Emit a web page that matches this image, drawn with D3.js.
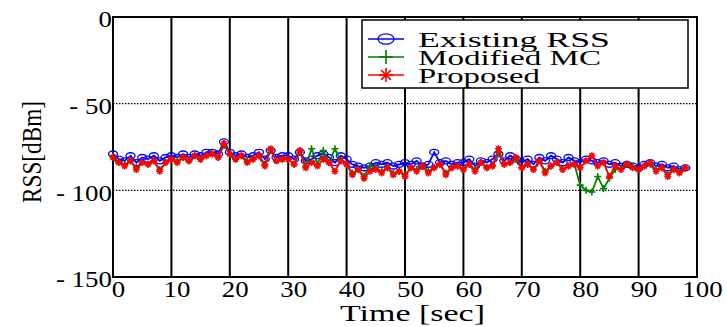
<!DOCTYPE html>
<html>
<head>
<meta charset="utf-8">
<script src="https://cdn.jsdelivr.net/npm/d3@7"></script>
<style>
  body { margin: 0; background: white; }
  svg text { font-family: "Liberation Serif", "Times New Roman", serif !important; fill: black; }
</style>
</head>
<body>
<div id="chart"></div>
<script>
// DATA (one sample per second)
const times = d3.range(0, 99)
const existingRSS = [-79,-82,-83,-80,-84,-81,-82,-80,-83,-81,-80,-81,-79,-81,-79,-80,-78,-78,-79,-72,
  -78,-80,-79,-81,-80,-78,-82,-77,-81,-80,-80,-82,-78,-83,-82,-80,-79,-81,-84,-80,
  -82,-85,-86,-87,-86,-84,-85,-84,-86,-85,-84,-85,-83,-86,-85,-78,-84,-83,-85,-84,
  -84,-82,-86,-83,-84,-82,-79,-83,-80,-82,-84,-82,-85,-81,-83,-80,-82,-84,-81,-83,
  -84,-82,-83,-84,-83,-85,-84,-86,-85,-86,-87,-85,-84,-86,-85,-87,-86,-88,-87]
const modifiedMC = [-80,-84,-85,-83,-87,-84,-85,-83,-88,-84,-82,-83,-81,-83,-80,-82,-80,-79,-81,-74,
  -79,-82,-80,-83,-82,-80,-85,-77,-83,-82,-82,-85,-78,-86,-76,-85,-77,-84,-76,-83,
  -85,-90,-88,-92,-86,-87,-89,-87,-90,-89,-91,-87,-88,-86,-89,-87,-85,-90,-87,-86,
  -88,-85,-88,-84,-87,-86,-78,-85,-84,-82,-87,-85,-88,-83,-89,-86,-84,-88,-86,-85,
  -97,-100,-101,-92,-99,-93,-88,-87,-85,-86,-88,-86,-85,-88,-87,-91,-88,-89,-87]
const proposed = [-81,-84,-86,-83,-88,-84,-85,-83,-89,-84,-82,-84,-81,-83,-80,-82,-80,-79,-81,-73,
  -79,-82,-80,-84,-82,-80,-86,-76,-83,-82,-82,-85,-77,-87,-84,-86,-82,-84,-89,-83,
  -85,-91,-88,-93,-89,-88,-90,-87,-91,-89,-92,-87,-89,-86,-90,-87,-85,-91,-87,-86,
  -88,-85,-89,-84,-87,-86,-76,-85,-84,-81,-87,-85,-88,-83,-90,-86,-84,-88,-86,-85,
  -87,-83,-80,-86,-84,-92,-86,-88,-85,-87,-88,-86,-84,-89,-87,-92,-88,-90,-87]
const xTicks = [0,10,20,30,40,50,60,70,80,90,100]
const yTicks = [0,-50,-100,-150]
const seriesNames = ["Existing RSS", "Modified MC", "Proposed"]

const width = 727, height = 327
const plotLeft = 113, plotRight = 697, plotTop = 17, plotBottom = 277

const xScale = d3.scaleLinear().domain([0, 100]).range([plotLeft, plotRight])
const yScale = d3.scaleLinear().domain([-150, 0]).range([plotBottom, plotTop])

const svg = d3.select("#chart").append("svg")
  .attr("width", width)
  .attr("height", height)

// GRID
svg.append("g").selectAll("line")
  .data(xTicks.slice(1, -1))
  .join("line")
    .attr("x1", d => xScale(d)).attr("x2", d => xScale(d))
    .attr("y1", plotTop).attr("y2", plotBottom)
    .attr("stroke", "black").attr("stroke-width", 2)

svg.append("g").selectAll("line")
  .data([-50, -100])
  .join("line")
    .attr("x1", plotLeft).attr("x2", plotRight)
    .attr("y1", d => yScale(d)).attr("y2", d => yScale(d))
    .attr("stroke", "black").attr("stroke-width", 1.3)
    .attr("stroke-dasharray", "1.5,1.5")

// AXES
const xAxis = d3.axisBottom(xScale).tickValues(xTicks).tickSize(0).tickPadding(3)
svg.append("g")
  .attr("transform", `translate(0, ${plotBottom})`)
  .call(xAxis)
  .call(g => g.select(".domain").remove())
  .selectAll("text")
    .attr("font-size", 24)
    .attr("transform", "translate(5,0) scale(1.12,1)")

const yAxis = d3.axisLeft(yScale).tickValues(yTicks).tickSize(0).tickPadding(1)
svg.append("g")
  .attr("transform", `translate(${plotLeft}, 0)`)
  .call(yAxis)
  .call(g => g.select(".domain").remove())
  .selectAll("text")
    .attr("font-size", 24)
    .attr("transform", "translate(0,2) scale(1.12,1)")
    .text(d => d === 0 ? "0" : "- " + Math.abs(d))

// frame
svg.append("rect")
  .attr("x", plotLeft).attr("y", plotTop)
  .attr("width", plotRight - plotLeft).attr("height", plotBottom - plotTop)
  .attr("fill", "none").attr("stroke", "black").attr("stroke-width", 2)

// axis labels
svg.append("text")
  .attr("x", 340).attr("y", 321)
  .attr("font-size", 24)
  .attr("textLength", 145).attr("lengthAdjust", "spacingAndGlyphs")
  .text("Time [sec]")

svg.append("text")
  .attr("transform", `translate(41, 152) rotate(-90)`)
  .attr("text-anchor", "middle").attr("font-size", 27)
  .attr("textLength", 102).attr("lengthAdjust", "spacingAndGlyphs")
  .text("RSS[dBm]")

// DRAW SERIES
const series = [
  {name: seriesNames[0], values: existingRSS, color: "#0000ff", marker: "circle", tl: 192},
  {name: seriesNames[1], values: modifiedMC, color: "#008000", marker: "plus", tl: 183},
  {name: seriesNames[2], values: proposed, color: "#ff0000", marker: "star", tl: 122}
]

const line = d3.line()
  .x((d, i) => xScale(times[i]))
  .y(d => yScale(d))

function drawMarker(g, type, color, size) {
  if (type === "circle") {
    g.append("ellipse").attr("rx", size).attr("ry", size * 0.65)
      .attr("fill", "none").attr("stroke", color).attr("stroke-width", 1.3)
  } else if (type === "plus") {
    g.append("path").attr("d", `M${-size},0H${size}M0,${-size}V${size}`)
      .attr("stroke", color).attr("stroke-width", 1.6)
  } else {
    g.append("path")
      .attr("d", `M${-size},0H${size}M0,${-size}V${size}M${-size*0.7},${-size*0.7}L${size*0.7},${size*0.7}M${-size*0.7},${size*0.7}L${size*0.7},${-size*0.7}`)
      .attr("stroke", color).attr("stroke-width", 1.6)
  }
}

series.forEach(s => {
  const g = svg.append("g")
  g.append("path")
    .datum(s.values)
    .attr("d", line)
    .attr("fill", "none")
    .attr("stroke", s.color)
    .attr("stroke-width", 1.8)
  g.selectAll("g.m")
    .data(s.values)
    .join("g")
      .attr("class", "m")
      .attr("transform", (d, i) => `translate(${xScale(times[i])}, ${yScale(d)})`)
      .each(function() { drawMarker(d3.select(this), s.marker, s.color, s.marker === "circle" ? 4.5 : 3.5) })
})

// LEGEND
const legend = svg.append("g")
legend.append("rect")
  .attr("x", 362).attr("y", 20)
  .attr("width", 326).attr("height", 68)
  .attr("fill", "white").attr("stroke", "black").attr("stroke-width", 1.5)

series.forEach((s, i) => {
  const cy = 39 + i * 18
  legend.append("line")
    .attr("x1", 368).attr("x2", 404)
    .attr("y1", cy).attr("y2", cy)
    .attr("stroke", s.color).attr("stroke-width", 1.3)
  const m = legend.append("g").attr("transform", `translate(386, ${cy})`)
  drawMarker(m, s.marker, s.color, s.marker === "circle" ? 8 : 7)
  legend.append("text")
    .attr("x", 418).attr("y", cy + 8)
    .attr("font-size", 21)
    .attr("textLength", s.tl).attr("lengthAdjust", "spacingAndGlyphs")
    .text(s.name)
})
</script>
</body>
</html>
